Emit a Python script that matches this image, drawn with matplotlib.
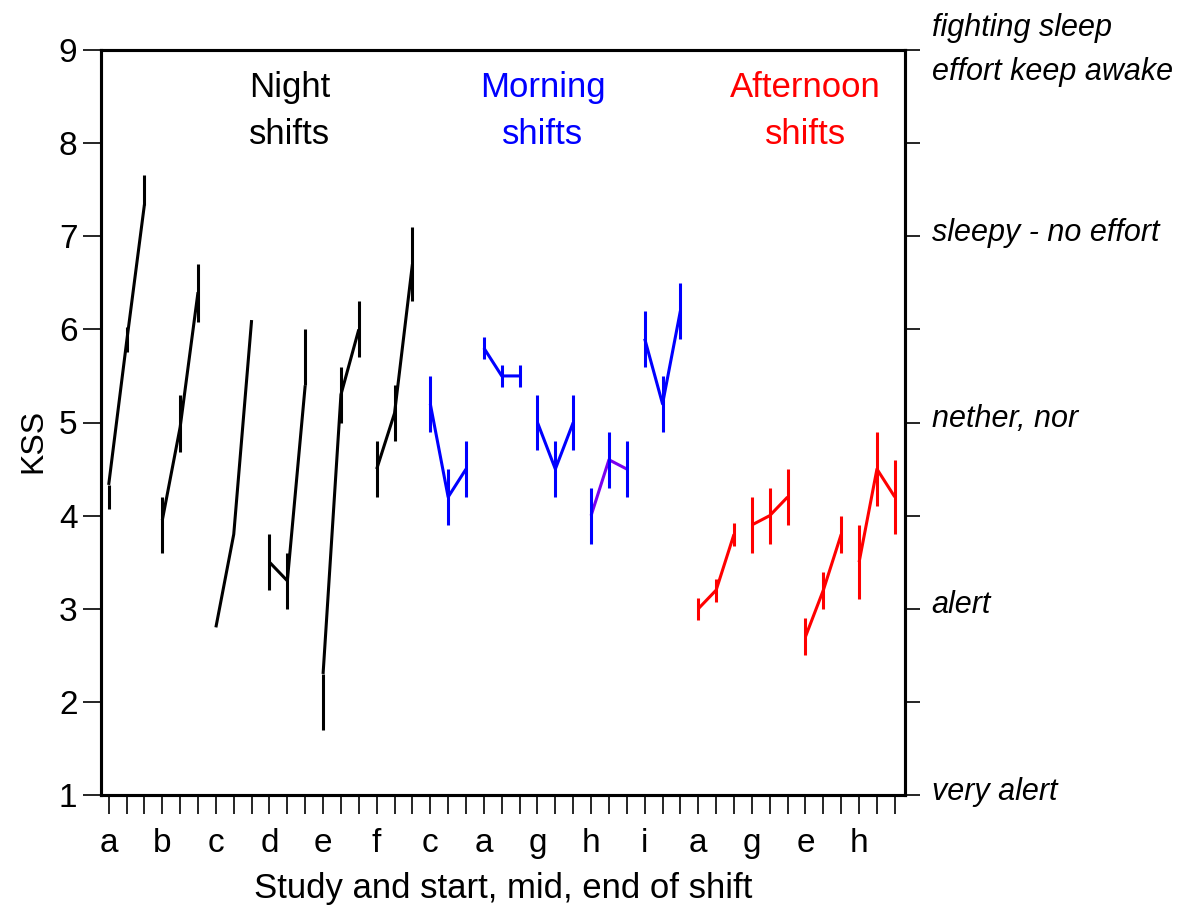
import numpy as np
import matplotlib
matplotlib.use("Agg")
import matplotlib.pyplot as plt

plt.rcParams['font.family'] = ['Liberation Sans', 'DejaVu Sans']

# ---- data -------------------------------------------------------------
study = ['a', 'b', 'c', 'd', 'e', 'f', 'c', 'a', 'g', 'h', 'i', 'a', 'g', 'e', 'h']
shift = ['Night'] * 6 + ['Morning'] * 5 + ['Afternoon'] * 4

# KSS at start, mid and end of shift (line vertices)
kss_start = [4.33, 3.95, 2.8, 3.5, 2.3, 4.5, 5.2, 5.8, 5.0, 4.0, 5.9, 3.0, 3.9, 2.7, 3.5]
kss_mid   = [5.86, 4.95, 3.8, 3.3, 5.3, 5.1, 4.2, 5.5, 4.5, 4.6, 5.2, 3.2, 4.0, 3.2, 4.5]
kss_end   = [7.34, 6.4, 6.1, 5.4, 6.0, 6.7, 4.5, 5.5, 5.0, 4.5, 6.2, 3.8, 4.2, 3.8, 4.2]

# error bar extents (nan = no bar drawn)
nan = np.nan
lo_start = [4.07, 3.6, nan, 3.2, 1.7, 4.2, 4.9, 5.68, 4.7, 3.7, 5.6, 2.88, 3.6, 2.5, 3.1]
hi_start = [4.33, 4.2, nan, 3.8, 2.3, 4.8, 5.5, 5.92, 5.3, 4.3, 6.2, 3.12, 4.2, 2.9, 3.9]
lo_mid   = [5.76, 4.68, nan, 3.0, 5.0, 4.8, 3.9, 5.38, 4.2, 4.3, 4.9, 3.07, 3.7, 3.0, 4.1]
hi_mid   = [6.03, 5.3, nan, 3.6, 5.6, 5.4, 4.5, 5.62, 4.8, 4.9, 5.5, 3.32, 4.3, 3.4, 4.9]
lo_end   = [7.34, 6.08, nan, 5.4, 5.7, 6.3, 4.2, 5.38, 4.7, 4.2, 5.9, 3.67, 3.9, 3.6, 3.8]
hi_end   = [7.66, 6.7, nan, 6.0, 6.3, 7.1, 4.8, 5.62, 5.3, 4.8, 6.5, 3.92, 4.5, 4.0, 4.6]

anchor_values = [1, 3, 5, 7, 9]
anchor_labels = ['very alert', 'alert', 'nether, nor', 'sleepy - no effort',
                 'fighting sleep\neffort keep awake']

shift_colors = {'Night': '#000000', 'Morning': '#0000ff', 'Afternoon': '#ff0000'}
line_colors = [shift_colors[s] for s in shift]
line_colors[9] = '#7a00f0'  # morning study h line drawn in violet

# ---- figure -----------------------------------------------------------
fig = plt.figure(figsize=(11.81, 9.07), dpi=100)
ax = fig.add_axes([101 / 1181, 1 - 795 / 907, (905 - 101) / 1181, (795 - 50) / 907])

lw = 2.2
for g in range(len(study)):
    xs = np.arange(3) + 3 * g
    ys = np.array([kss_start[g], kss_mid[g], kss_end[g]])
    lo = np.array([lo_start[g], lo_mid[g], lo_end[g]])
    hi = np.array([hi_start[g], hi_mid[g], hi_end[g]])
    col = shift_colors[shift[g]]
    ax.plot(xs, ys, color=line_colors[g], lw=lw, solid_capstyle='butt', zorder=3)
    ok = ~np.isnan(lo)
    if ok.any():
        ax.errorbar(xs[ok], ys[ok], yerr=[ys[ok] - lo[ok], hi[ok] - ys[ok]],
                    fmt='none', ecolor=col, elinewidth=lw, capsize=0, zorder=3)

ax.set_xlim(-0.43, 44.57)
ax.set_ylim(1, 9)

ax.set_xticks(np.arange(3 * len(study)))
ax.set_xticklabels([study[i // 3] if i % 3 == 0 else '' for i in range(3 * len(study))],
                   fontsize=24)
ax.set_yticks(np.arange(1, 10))
ax.tick_params(axis='y', direction='out', length=13, width=1.2, labelsize=24, pad=4)
ax.tick_params(axis='x', direction='out', length=14, width=1.2, pad=10)

for sp in ax.spines.values():
    sp.set_linewidth(2.2)

ax.set_ylabel('KSS', fontsize=23)
ax.yaxis.set_label_coords(-0.066, 0.475)
ax.set_xlabel('Study and start, mid, end of shift', fontsize=25, labelpad=9)

# right axis ticks with verbal anchors
ax2 = ax.twinx()
ax2.set_ylim(1, 9)
ax2.set_yticks(np.arange(1, 10))
ax2.set_yticklabels([])
ax2.tick_params(axis='y', direction='out', length=11, width=1.2)
for sp in ax2.spines.values():
    sp.set_linewidth(2.2)

for v, lab in zip(anchor_values, anchor_labels):
    dy = 0.0 if '\n' in lab else 0.035
    ax.text(1.033, v + dy, lab, transform=ax.get_yaxis_transform(),
            fontsize=22, style='italic', ha='left', va='center', linespacing=1.63)

# group titles
titles = [('Night\nshifts', 10.15, shift_colors['Night']),
          ('Morning\nshifts', 24.3, shift_colors['Morning']),
          ('Afternoon\nshifts', 39.0, shift_colors['Afternoon'])]
for txt, xpos, c in titles:
    ax.text(xpos, 8.35, txt, color=c, fontsize=25, ha='center', va='center',
            linespacing=1.54)

fig.savefig('out.png', dpi=100)
